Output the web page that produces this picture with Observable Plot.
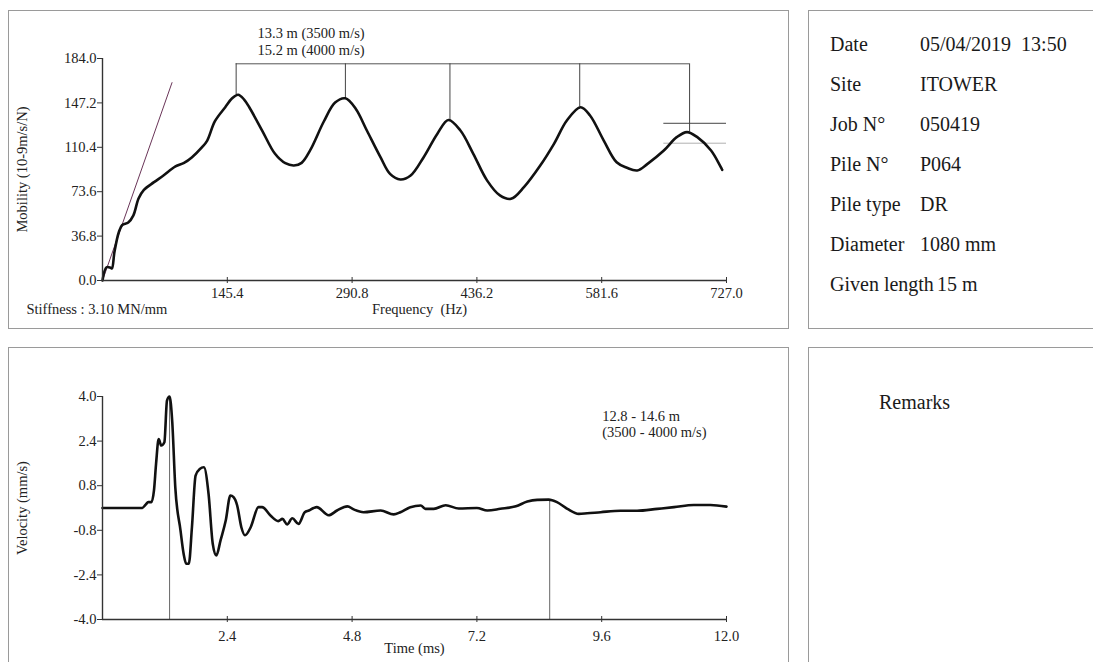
<!DOCTYPE html>
<html><head><meta charset="utf-8">
<script src="https://cdn.jsdelivr.net/npm/d3@7"></script>
<script src="https://cdn.jsdelivr.net/npm/@observablehq/plot@0.6"></script>
<style>
body{margin:0;background:#fff;}
#page{position:relative;width:1093px;height:662px;overflow:hidden;font-family:"Liberation Serif","Times New Roman",serif;color:#1a1a1a;}
.panel{position:absolute;border:1px solid #9a9a9a;box-sizing:border-box;}
.plot{position:absolute;}
.row{position:absolute;font-size:20px;line-height:20px;white-space:nowrap;}
.lab{display:inline-block;min-width:87px;padding-right:3px;}
</style></head><body><div id="page"></div>
<script>
// ---- Mobility (frequency domain) ----
const mobFreq = [0,4.7,9.5,11,14,19,23,30,36,42,48,60,71,85,95,104,116,122,131,143,151,158,165,171,186,201,213,223,232,242,258,271,283,295,308,324,335,347,359,374,390,403,417,432,448,463,476,491,510,526,541,557,568,584,599,611,623,635,654,669,681,693,709,722];
const mobVal  = [0,11,10.5,10,24,40,46,48,54,68,75,81.5,87,94.5,97.5,102,110.5,116,132,143.6,151,154,150,143.6,124.3,105,97.2,95.3,97.5,108,132,147.5,151,142.3,124.3,102,88.4,83.7,87,102,121.5,133,124.3,105,83,70.5,67.7,77.4,95.3,113.3,132.6,143.6,136.8,116,98,93.4,91.2,96.7,107.7,118.8,123,118.8,107.7,91.7];
const mobXTicks = [145.4,290.8,436.2,581.6,727.0];
const mobYTicks = [0,36.8,73.6,110.4,147.2,184.0];
const peakFreq = [155.7,283,404.8,556,684];
const peakMob  = [154,151,133,143.6,123];
const bracketMob = 179.6;
const limitMob = [130.3,113.8];
const limitColor = ["#444","#b0b0b0"];
const limitFreq = [654,727];
const stiffFreq = [0,81];
const stiffMob  = [0,164];
const mobNotes = ["13.3 m (3500 m/s)","15.2 m (4000 m/s)"];
const mobNoteFreq = [180.6,180.6];
const mobNoteMob  = [204.7,191];
const mobXLabel = "Frequency\u00a0 (Hz)";
const mobYLabel = "Mobility (10-9m/s/N)";
const stiffnessText = "Stiffness : 3.10 MN/mm";

// ---- Velocity (time domain) ----
const velTime = [0,0.5,0.76,0.83,0.88,0.94,0.99,1.03,1.08,1.13,1.19,1.24,1.29,1.34,1.40,1.50,1.56,1.61,1.66,1.72,1.79,1.87,1.95,2.04,2.12,2.19,2.27,2.37,2.46,2.52,2.59,2.67,2.74,2.85,3.0,3.07,3.23,3.38,3.46,3.55,3.65,3.77,3.89,3.97,4.06,4.12,4.35,4.51,4.71,4.83,5.02,5.35,5.6,5.73,5.92,6.12,6.21,6.37,6.6,6.85,7.2,7.4,7.65,7.95,8.17,8.36,8.58,8.74,8.94,9.16,9.32,9.58,9.96,10.28,10.67,10.99,11.37,11.69,12.0];
const velVal  = [0,0,0,0.12,0.21,0.21,0.63,1.58,2.47,2.24,2.36,3.85,4.0,3.13,0.74,-0.8,-1.64,-2.0,-2.0,-0.69,1.16,1.4,1.46,0.5,-1.28,-1.7,-1.16,-0.45,0.45,0.39,0.09,-0.69,-0.98,-0.69,0.03,0.03,-0.27,-0.47,-0.39,-0.59,-0.37,-0.57,-0.15,-0.09,0,0.03,-0.26,-0.09,0.06,-0.05,-0.15,-0.09,-0.23,-0.15,0.03,0.09,-0.03,-0.03,0.1,-0.02,0,-0.09,-0.03,0.06,0.23,0.29,0.3,0.21,-0.03,-0.21,-0.19,-0.15,-0.1,-0.1,-0.03,0.03,0.11,0.11,0.05];
const velXTicks = [2.4,4.8,7.2,9.6,12.0];
const velYTicks = [-4.0,-2.4,-0.8,0.8,2.4,4.0];
const velMarkTime = [1.29,8.6];
const velMarkVal  = [4.0,0.3];
const velNotes = ["12.8 - 14.6 m","(3500 - 4000 m/s)"];
const velNoteTime = [9.61,9.61];
const velNoteVal  = [3.27,2.71];
const velXLabel = "Time (ms)";
const velYLabel = "Velocity (mm/s)";

// ---- Info panel ----
const infoLabels = ["Date","Site","Job N°","Pile N°","Pile type","Diameter","Given length"];
const infoValues = ["05/04/2019\u00a0 13:50","ITOWER","050419","P064","DR","1080 mm","15 m"];
const remarksText = "Remarks";

const page = document.getElementById("page");
function box(l,t,w,h){const d=document.createElement("div");d.className="panel";Object.assign(d.style,{left:l+"px",top:t+"px",width:w+"px",height:h+"px"});page.appendChild(d);}
box(8,10,781,319); box(808,10,320,319); box(8,347,781,340); box(808,347,320,340);

const fmt = d => d.toFixed(1);
const baseStyle = {background:"transparent",fontFamily:"Liberation Serif, Times New Roman, serif",fontSize:"14.5px",color:"#1a1a1a",overflow:"visible"};
const axisColor = "#333";

const mobData = mobFreq.map((f,i)=>({f, m: mobVal[i]}));
const peaks = peakFreq.map((f,i)=>({f, m: peakMob[i], top: bracketMob}));
const bracket = [{y: bracketMob, x1: peakFreq[0], x2: peakFreq[peakFreq.length-1]}];
const limits = limitMob.map((m,i)=>({m, x1: limitFreq[0], x2: limitFreq[1], c: limitColor[i]}));
const stiff = stiffFreq.map((f,i)=>({f, m: stiffMob[i]}));
const mobNoteData = mobNotes.map((t,i)=>({t, f: mobNoteFreq[i], m: mobNoteMob[i]}));

const topChart = Plot.plot({
  width: 800, height: 330,
  marginLeft: 102, marginRight: 74, marginTop: 58, marginBottom: 50,
  style: baseStyle,
  x: {domain: [0,727]},
  y: {domain: [0,184]},
  marks: [
    Plot.line(stiff, {x:"f", y:"m", stroke:"#6a3558", strokeWidth:1}),
    Plot.ruleY(bracket, {y:"y", x1:"x1", x2:"x2", stroke:"#555", strokeWidth:1}),
    Plot.ruleX(peaks, {x:"f", y1:"m", y2:"top", stroke:"#444", strokeWidth:1}),
    Plot.ruleY(limits, {y:"m", x1:"x1", x2:"x2", stroke:"c", strokeWidth:1}),
    Plot.line(mobData, {x:"f", y:"m", curve:"catmull-rom", stroke:"#111", strokeWidth:2.6, strokeLinejoin:"round"}),
    Plot.ruleX([0], {stroke: axisColor, strokeWidth:1.4}),
    Plot.ruleY([0], {stroke: axisColor, strokeWidth:1.6}),
    Plot.axisY(mobYTicks, {tickSize:5, tickPadding:1, tickFormat: fmt, label:null, stroke: axisColor, fill:"#222"}),
    Plot.axisX(mobXTicks, {tickSize:6, dy:-3, fill:"none", label:null, stroke: axisColor}),
    Plot.axisX(mobXTicks, {tickSize:0, tickPadding:7, tickFormat: fmt, label:null, fill:"#222"}),
    Plot.text(mobNoteData, {x:"f", y:"m", text:"t", textAnchor:"start", fill:"#222"}),
    Plot.text([mobYLabel], {text: d=>d, frameAnchor:"left", dx:-80, rotate:-90, textAnchor:"middle", fill:"#222"}),
    Plot.text([mobXLabel], {text: d=>d, frameAnchor:"bottom", dx:5, dy:33, fill:"#222"}),
    Plot.text([stiffnessText], {text: d=>d, frameAnchor:"bottom-left", dx:-76, dy:33, textAnchor:"start", fill:"#222"})
  ]
});
topChart.classList.add("plot"); topChart.style.left="0px"; topChart.style.top="0px";
page.appendChild(topChart);

const velData = velTime.map((t,i)=>({t, v: velVal[i]}));
const velMarks = velMarkTime.map((t,i)=>({t, v: velMarkVal[i], base: velYTicks[0]}));
const velNoteData = velNotes.map((s,i)=>({s, t: velNoteTime[i], v: velNoteVal[i]}));

const bottomChart = Plot.plot({
  width: 800, height: 332,
  marginLeft: 102, marginRight: 74, marginTop: 66, marginBottom: 43,
  style: baseStyle,
  x: {domain: [0,12]},
  y: {domain: [-4,4]},
  marks: [
    Plot.ruleX(velMarks, {x:"t", y1:"base", y2:"v", stroke:"#666", strokeWidth:1}),
    Plot.line(velData, {x:"t", y:"v", curve:"monotone-x", stroke:"#111", strokeWidth:2.6, strokeLinejoin:"round"}),
    Plot.ruleX([0], {stroke: axisColor, strokeWidth:1.4}),
    Plot.ruleY([-4], {stroke: axisColor, strokeWidth:1.6}),
    Plot.axisY(velYTicks, {tickSize:5, tickPadding:1, tickFormat: fmt, label:null, stroke: axisColor, fill:"#222"}),
    Plot.axisX(velXTicks, {tickSize:6, dy:-3, fill:"none", label:null, stroke: axisColor}),
    Plot.axisX(velXTicks, {tickSize:0, tickPadding:11, tickFormat: fmt, label:null, fill:"#222"}),
    Plot.text(velNoteData, {x:"t", y:"v", text:"s", textAnchor:"start", fill:"#222"}),
    Plot.text([velYLabel], {text: d=>d, frameAnchor:"left", dx:-80, rotate:-90, textAnchor:"middle", fill:"#222"}),
    Plot.text([velXLabel], {text: d=>d, frameAnchor:"bottom", dy:33, fill:"#222"})
  ]
});
bottomChart.classList.add("plot"); bottomChart.style.left="0px"; bottomChart.style.top="330px";
page.appendChild(bottomChart);

// info rows
const rowTop0 = 33.5, rowStep = 40;
infoLabels.forEach((lab,i)=>{
  const r = document.createElement("div"); r.className="row";
  r.style.left = "830px"; r.style.top = (rowTop0 + i*rowStep) + "px";
  const a = document.createElement("span"); a.className="lab"; a.textContent = lab;
  const b = document.createElement("span"); b.textContent = infoValues[i];
  r.appendChild(a); r.appendChild(b); page.appendChild(r);
});
const rem = document.createElement("div"); rem.className="row";
rem.style.left="879px"; rem.style.top="392px"; rem.textContent = remarksText;
page.appendChild(rem);
</script>
</body></html>
